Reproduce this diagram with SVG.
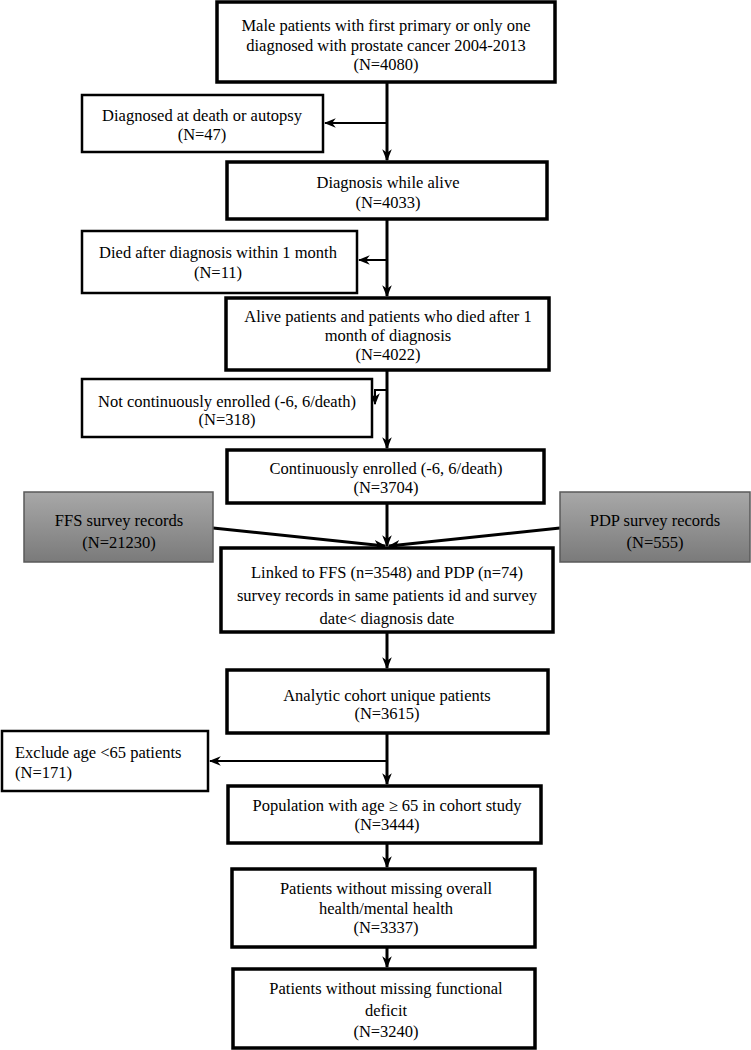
<svg xmlns="http://www.w3.org/2000/svg" width="751" height="1050" viewBox="0 0 751 1050">
<defs>
<style>
.box{fill:#fff;stroke:#000;stroke-width:3.5}
.side{fill:#fff;stroke:#000;stroke-width:2.5}
.gray{fill:url(#g);stroke:#5a5a5a;stroke-width:1.5}
text{font-family:"Liberation Serif","Times New Roman",serif;font-size:16.5px;fill:#000;text-anchor:middle}
.l{text-anchor:start}
.c{fill:none;stroke:#000;stroke-width:3}
.t{fill:none;stroke:#000;stroke-width:2}
</style>
<linearGradient id="g" x1="0" y1="0" x2="0" y2="1">
<stop offset="0" stop-color="#a8a8a8"/>
<stop offset="1" stop-color="#7a7a7a"/>
</linearGradient>
<marker id="a" viewBox="0 0 10 10" refX="9" refY="5" markerWidth="5" markerHeight="5" markerUnits="userSpaceOnUse" orient="auto">
<path d="M0,0 L10,5 L0,10 L3,5 Z" fill="#000"/>
</marker>
<marker id="b" viewBox="0 0 10 10" refX="9" refY="5" markerWidth="12" markerHeight="12" markerUnits="userSpaceOnUse" orient="auto">
<path d="M0,1 L10,5 L0,9 L3,5 Z" fill="#000"/>
</marker>
</defs>
<g id="connectors">
<path class="c" d="M387,82 V160" marker-end="url(#b)"/>
<path class="t" d="M387,123 H325" marker-end="url(#b)"/>
<path class="c" d="M387,219 V296" marker-end="url(#b)"/>
<path class="t" d="M387,260 H359" marker-end="url(#b)"/>
<path class="c" d="M387,370 V448" marker-end="url(#b)"/>
<path class="t" d="M387,390 H375 V404" marker-end="url(#b)"/>
<path class="c" d="M387,503 V546" marker-end="url(#b)"/>
<path class="c" d="M213,528 L385,546" marker-end="url(#b)"/>
<path class="c" d="M560,528 L389,546" marker-end="url(#b)"/>
<path class="c" d="M387,632 V668" marker-end="url(#b)"/>
<path class="c" d="M387,733 V784" marker-end="url(#b)"/>
<path class="t" d="M387,761 H210" marker-end="url(#b)"/>
<path class="c" d="M387,843 V867" marker-end="url(#b)"/>
<path class="c" d="M387,947 V967" marker-end="url(#b)"/>
</g>
<g id="n1"><rect class="box" x="217" y="2" width="338" height="80"/>
<text x="386" y="31">Male patients with first primary or only one</text>
<text x="386" y="51">diagnosed with prostate cancer 2004-2013</text>
<text x="386" y="70">(N=4080)</text></g>
<g id="n2"><rect class="side" x="82" y="95" width="241" height="57"/>
<text x="202" y="121">Diagnosed at death or autopsy</text>
<text x="202" y="140">(N=47)</text></g>
<g id="n3"><rect class="box" x="227" y="162" width="320" height="57"/>
<text x="388" y="188">Diagnosis while alive</text>
<text x="388" y="208">(N=4033)</text></g>
<g id="n4"><rect class="side" x="82" y="231" width="275" height="62"/>
<text x="218" y="258">Died after diagnosis within 1 month</text>
<text x="218" y="278">(N=11)</text></g>
<g id="n5"><rect class="box" x="226" y="298" width="323" height="72"/>
<text x="388" y="322">Alive patients and patients who died after 1</text>
<text x="388" y="341">month of diagnosis</text>
<text x="388" y="360">(N=4022)</text></g>
<g id="n6"><rect class="side" x="82" y="379" width="290" height="58"/>
<text x="227" y="407">Not continuously enrolled (-6, 6/death)</text>
<text x="227" y="425">(N=318)</text></g>
<g id="n7"><rect class="box" x="227" y="450" width="317" height="53"/>
<text x="386" y="474">Continuously enrolled (-6, 6/death)</text>
<text x="386" y="493">(N=3704)</text></g>
<g id="n8"><rect class="gray" x="24" y="492" width="189" height="70"/>
<text x="119" y="526">FFS survey records</text>
<text x="119" y="548">(N=21230)</text></g>
<g id="n9"><rect class="gray" x="560" y="492" width="190" height="70"/>
<text x="655" y="526">PDP survey records</text>
<text x="655" y="548">(N=555)</text></g>
<g id="n10"><rect class="box" x="221" y="548" width="332" height="84"/>
<text x="387" y="578">Linked to FFS (n=3548) and PDP (n=74)</text>
<text x="387" y="601">survey records in same patients id and survey</text>
<text x="387" y="624">date&lt; diagnosis date</text></g>
<g id="n11"><rect class="box" x="227" y="670" width="321" height="63"/>
<text x="387" y="701">Analytic cohort unique patients</text>
<text x="387" y="719">(N=3615)</text></g>
<g id="n12"><rect class="side" x="2" y="731" width="206" height="60"/>
<text class="l" x="15" y="758">Exclude age &lt;65 patients</text>
<text class="l" x="15" y="778">(N=171)</text></g>
<g id="n13"><rect class="box" x="228" y="786" width="313" height="57"/>
<text x="387" y="811">Population with age ≥ 65 in cohort study</text>
<text x="387" y="830">(N=3444)</text></g>
<g id="n14"><rect class="box" x="232" y="869" width="303" height="78"/>
<text x="386" y="894">Patients without missing overall</text>
<text x="386" y="914">health/mental health</text>
<text x="386" y="933">(N=3337)</text></g>
<g id="n15"><rect class="box" x="233" y="969" width="302" height="79"/>
<text x="386" y="994">Patients without missing functional</text>
<text x="386" y="1016">deficit</text>
<text x="386" y="1037">(N=3240)</text></g>
</svg>
